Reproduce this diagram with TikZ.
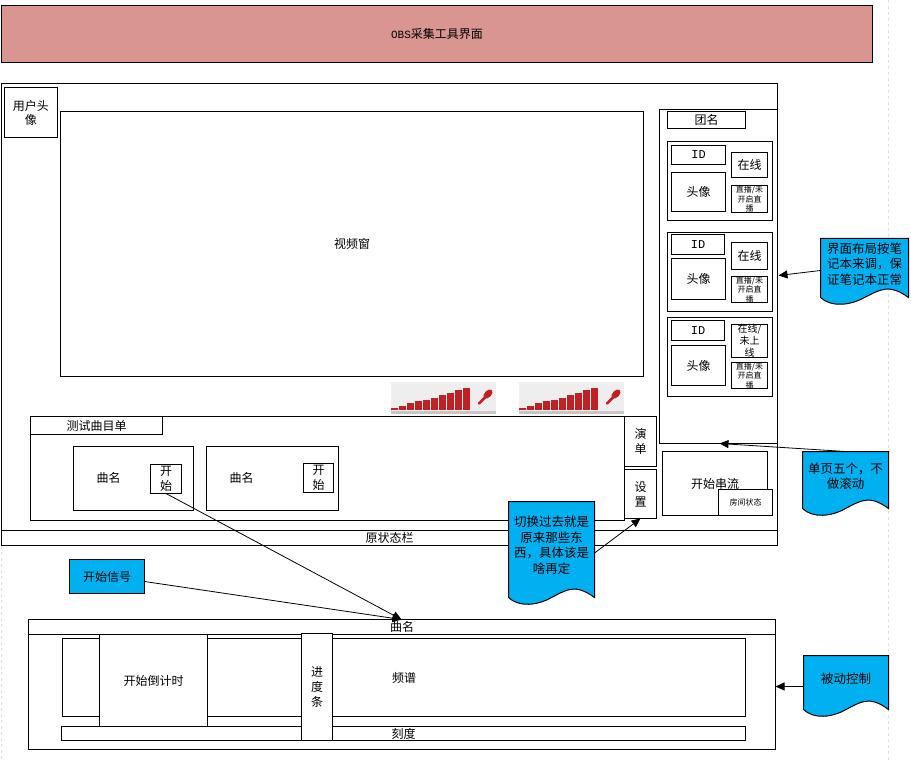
\documentclass[tikz,border=0pt]{standalone}
\usepackage{fontspec}
\setmainfont{Noto Sans CJK SC}
\newfontfamily\latmono{Liberation Mono}
\usetikzlibrary{arrows.meta}
\definecolor{titlered}{HTML}{D9958F}
\definecolor{docblue}{HTML}{00B0F0}
\definecolor{meterred}{HTML}{C02026}
\definecolor{meterbg}{HTML}{EEEEEE}
\tikzset{
  base/.style={draw=black,line width=1pt,fill=white,inner sep=0pt,outer sep=0pt,align=center,font=\fontsize{12}{14}\selectfont},
  tiny/.style={font=\fontsize{8}{9.5}\selectfont},
  tall/.style={font=\fontsize{12}{15}\selectfont},
  conn/.style={draw=black,line width=0.8pt,-{Triangle[length=9pt,width=8pt]}},
  guide/.style={draw=black!12,line width=0.8pt,dashed},
  docshape/.style={draw=black,line width=1pt,fill=docblue},
  doctext/.style={inner sep=0pt,outer sep=0pt,align=center,font=\fontsize{12.5}{15.5}\selectfont}
}
\newcommand{\nbx}[7][]{\node[base,minimum width={(#5-#3)*1pt},minimum height={(#6-#4)*1pt},#1] (#2) at ({(#3+#5)/2},{(#4+#6)/2}) {#7};}
% {name}{x0}{y0}{x1}{y1}{text}
\newcommand{\docbox}[6]{%
  \draw[docshape] (#2,#3) -- (#4,#3) -- (#4,#5)
    .. controls ({#4-0.22*(#4-#2)},{#5-14}) and ({#2+0.68*(#4-#2)},{#5-8}) .. ({#2+0.5*(#4-#2)},{#5})
    .. controls ({#2+0.34*(#4-#2)},{#5+8}) and ({#2+0.12*(#4-#2)},{#5+10}) .. (#2,#5) -- cycle;
  \node[doctext,minimum width={(#4-#2)*1pt},minimum height={(#5-#3-8)*1pt}] (#1) at ({(#2+#4)/2},{(#3+#5-8)/2}) {#6};}
\newcommand{\meter}[1]{%
  \begin{scope}[shift={(#1,381.5)}]
    \fill[meterbg] (0,0) rectangle (105,32);
    \fill[black!22] (0,28.5) rectangle (105,32);
    \foreach \i/\h in {0/2.5,1/4.5,2/7,3/9,4/10.5,5/12.5,6/15,7/17,8/20,9/22}{
      \fill[meterred] ({\i*8.05},{28-\h}) rectangle ({\i*8.05+6.9},28);
    }
    \draw[meterred,line width=2.6pt,line cap=round] (88,21.5) -- (95,14.5);
    \fill[meterred,rotate around={45:(97,12)}] (97,12) ellipse (5.5pt and 3.4pt);
  \end{scope}}
\begin{document}
\begin{tikzpicture}[x=1pt,y=-1pt]
\useasboundingbox (-0.5,-0.5) rectangle (910.5,761.5);
\fill[white] (-0.5,-0.5) rectangle (910.5,761.5);
\draw[guide] (888,0) -- (888,761);
\draw[guide] (1,545) -- (1,761);
% title
\nbx[fill=titlered]{title}{1}{5}{872}{62}{{\latmono\fontsize{11}{12}\selectfont OBS}采集工具界面}
% main window
\nbx{main}{1}{83}{777}{545}{}
\nbx{avatar}{4}{87}{57}{137}{用户头\\像}
\nbx{video}{60}{111}{643}{376}{视频窗}
\nbx{panel}{659}{109}{777}{443}{}
\nbx{team}{667}{111}{745}{128}{团名}
% cards
\nbx{cardA}{667}{141}{772}{220}{}
\nbx{idA}{671}{145}{725}{164}{\latmono ID}
\nbx{headA}{671}{172}{725}{211}{头像}
\nbx{onA}{731}{152}{767}{177}{在线}
\nbx[tiny]{liveA}{731}{186}{767}{211}{直播/未\\开启直\\播}
\nbx{cardB}{667}{232}{772}{311}{}
\nbx{idB}{671}{234}{724}{254}{\latmono ID}
\nbx{headB}{671}{258}{725}{299}{头像}
\nbx{onB}{731}{242}{767}{269}{在线}
\nbx[tiny]{liveB}{731}{276}{767}{302}{直播/未\\开启直\\播}
\nbx{cardC}{667}{317}{772}{396}{}
\nbx{idC}{671}{320}{724}{340}{\latmono ID}
\nbx{headC}{671}{345}{725}{385}{头像}
\nbx[font=\fontsize{10}{12}\selectfont]{onC}{731}{328}{767}{353}{在线/\\未上\\线}
\nbx[tiny]{liveC}{731}{362}{767}{388}{直播/未\\开启直\\播}
% meters
\meter{390.5}
\meter{518.5}
% status + list
\nbx{status}{1}{530}{777}{545}{原状态栏}
\nbx{list}{30}{416}{624}{520}{}
\nbx{listhead}{30}{416}{162}{434}{测试曲目单}
\nbx{songA}{73}{446}{193}{510}{}
\node[font=\fontsize{12}{14}\selectfont] (nameA) at (108,477) {曲名};
\nbx[tall]{startA}{150}{464}{181}{493}{开\\始}
\nbx{songB}{206}{446}{338}{510}{}
\node[font=\fontsize{12}{14}\selectfont] (nameB) at (241,477) {曲名};
\nbx[tall]{startB}{303}{463}{333}{492}{开\\始}
\nbx[tall]{menu}{624}{416}{656}{466}{演\\单}
\nbx[tall]{setup}{624}{469}{656}{518}{设\\置}
\nbx{stream}{662}{451}{767}{515}{开始串流}
\nbx[tiny]{room}{718}{489}{772}{515}{房间状态}
% bottom bar
\nbx{bottom}{28}{619}{775}{749}{}
\nbx{songbar}{28}{619}{775}{634}{曲名}
\nbx{spectrum}{62}{638}{745}{716}{频谱}
\nbx{scale}{61}{726}{745}{740}{刻度}
\nbx{countdown}{99}{634}{207}{726}{开始倒计时}
\nbx[tall]{progress}{301}{633}{332}{740}{进\\度\\条}
\nbx[fill=docblue]{signal}{69}{559}{144}{593}{开始信号}
% docs
\docbox{noteA}{820}{238}{908}{297}{界面布局按笔\\记本来调，保\\证笔记本正常}
\docbox{noteB}{802}{451}{888}{508}{单页五个，不\\做滚动}
\docbox{noteC}{508}{501}{594}{597}{切换过去就是\\原来那些东\\西，具体该是\\啥再定}
\docbox{noteD}{803}{655}{888}{709}{被动控制}
% connectors
\draw[conn] (startA.south) -- ([xshift=-0.5pt]songbar.north);
\draw[conn] (signal.east) ++(0,5) -- ([xshift=-0.5pt]songbar.north);
\draw[conn] ([yshift=-6.5pt]noteA.west) -- ([xshift=1pt,yshift=-11.5pt]panel.east |- noteA.west);
\draw[conn] (noteB.north) -- ([xshift=1pt]panel.south);
\draw[conn] ([yshift=-7.5pt]noteC.east) -- (setup.south);
\draw[conn] ([yshift=-8pt]noteD.west) -- ([yshift=-2pt]bottom.east);
\end{tikzpicture}
\end{document}
